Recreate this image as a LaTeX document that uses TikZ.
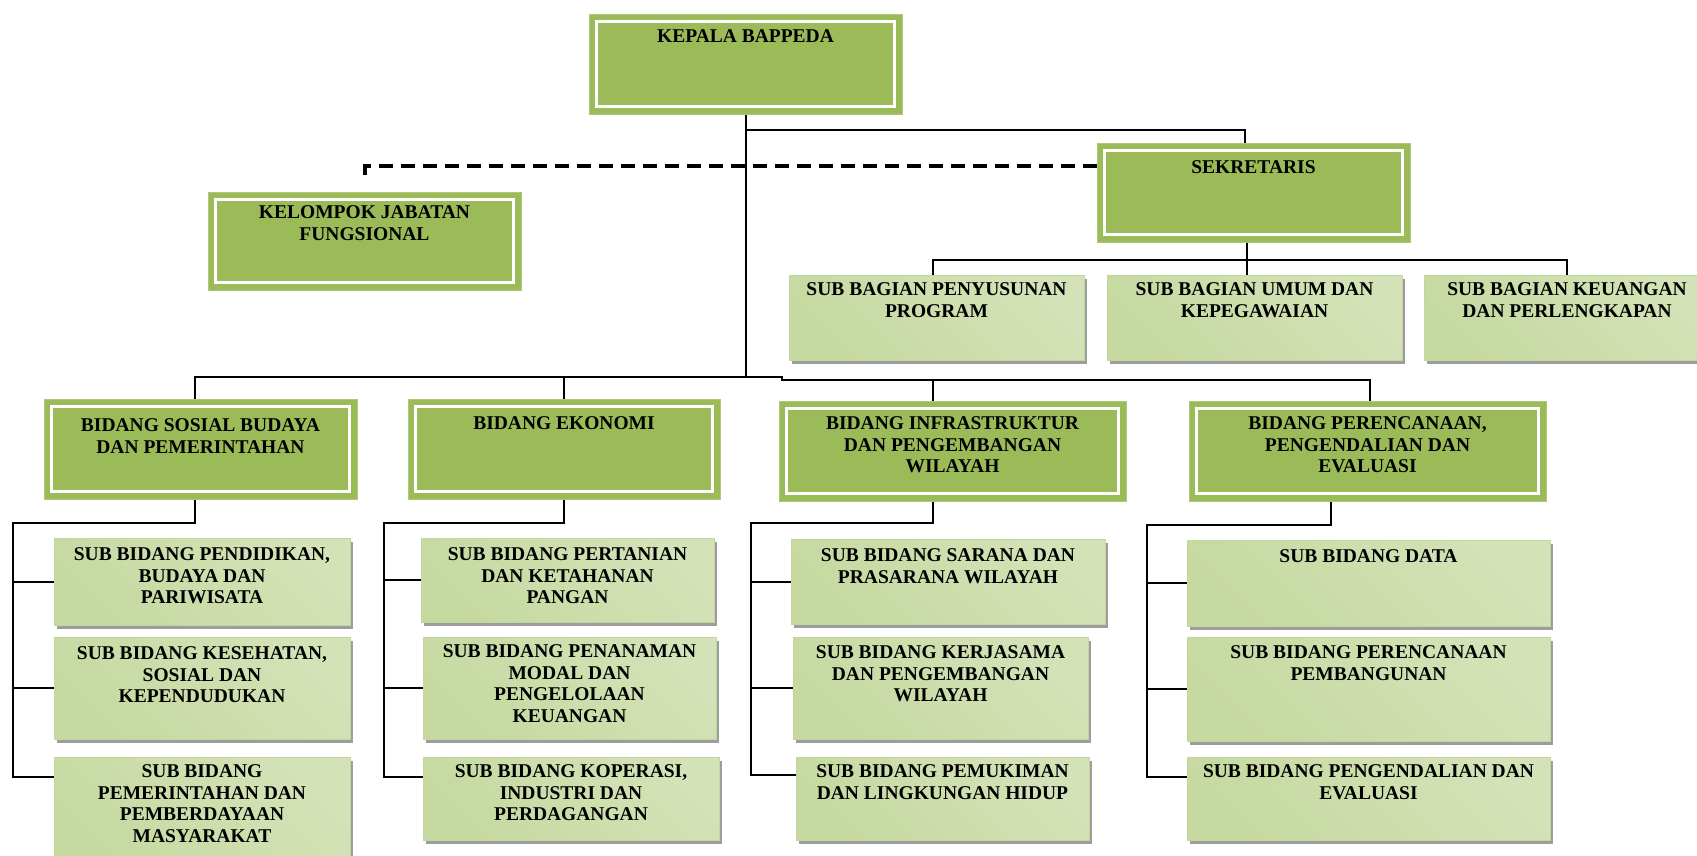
\documentclass[tikz,border=0pt]{standalone}
\usepackage{fontspec}
\setmainfont{Liberation Serif}
\usetikzlibrary{shadows}
\definecolor{orgdark}{HTML}{9BBB59}
\definecolor{orgdarkedge}{HTML}{AFC97A}
\definecolor{orglight}{HTML}{F1F6EA}
\definecolor{orgmid}{HTML}{C6D9A0}
\definecolor{orgedge}{HTML}{C3D69B}
\tikzset{
  darkbox/.style={fill=orgdark, draw=orgdarkedge, line width=1pt, inner sep=0pt},
  lightbox/.style={left color=orgmid, middle color=orglight, right color=orgmid!75!white,
    shading angle=135, draw=orgedge, line width=0.8pt, inner sep=0pt,
    drop shadow={shadow xshift=3pt, shadow yshift=-4pt, fill=black!45, opacity=0.85}},
  boxtext/.style={font=\bfseries\fontsize{19.5}{21.5}\selectfont, align=center, inner sep=0pt, anchor=north, text=black},
  conn/.style={draw=black, line width=2pt},
  dashconn/.style={draw=black, line width=3.5pt, dash pattern=on 14pt off 8pt},
}
% name, style, x1, y1, x2, y2, text offset, text
\newcommand\obox[8]{%
  \node[#2, minimum width={(#5-#3)*1pt}, minimum height={(#6-#4)*1pt}] (#1) at ({(#3+#5)/2},{(#4+#6)/2}) {};
  \node[boxtext] (#1t) at ([yshift=-#7pt]#1.north) {#8};
}
\newcommand\dbox[7]{%
  \node[darkbox, minimum width={(#4-#2)*1pt}, minimum height={(#5-#3)*1pt}] (#1) at ({(#2+#4)/2},{(#3+#5)/2}) {};
  \draw[white, line width=2.5pt] ([shift={(8,8)}]#1.north west) rectangle ([shift={(-8,-8)}]#1.south east);
  \node[boxtext] (#1t) at ([yshift=-#6pt]#1.north) {#7};
}
\begin{document}
\begin{tikzpicture}[x=1pt,y=-1pt]
\useasboundingbox (0,0) rectangle (1697,855);
\clip (0,0) rectangle (1697,855);
\fill[white] (0,0) rectangle (1697,855);

% top level
\dbox{kepala}{589}{14}{902}{114}{16}{KEPALA BAPPEDA}
\dbox{sekr}{1097}{143}{1410}{242}{18}{SEKRETARIS}
\dbox{kjf}{208}{192}{521}{290}{14}{KELOMPOK JABATAN\\FUNGSIONAL}

% sub bagian
\obox{sbp}{lightbox}{789}{275}{1084}{360}{8}{SUB BAGIAN PENYUSUNAN\\PROGRAM}
\obox{sbu}{lightbox}{1107}{275}{1402}{360}{8}{SUB BAGIAN UMUM DAN\\KEPEGAWAIAN}
\obox{sbk}{lightbox}{1424}{275}{1710}{360}{8}{SUB BAGIAN KEUANGAN\\DAN PERLENGKAPAN}

% bidang
\dbox{sos}{44}{399}{357}{499}{20}{BIDANG SOSIAL BUDAYA\\DAN PEMERINTAHAN}
\dbox{eko}{408}{399}{720}{499}{18}{BIDANG EKONOMI}
\dbox{inf}{779}{401}{1126}{501}{16}{BIDANG INFRASTRUKTUR\\DAN PENGEMBANGAN\\WILAYAH}
\dbox{per}{1189}{401}{1546}{501}{16}{BIDANG PERENCANAAN,\\PENGENDALIAN DAN\\EVALUASI}

% sub bidang
\obox{s11}{lightbox}{54}{538}{350}{625}{10}{SUB BIDANG PENDIDIKAN,\\BUDAYA DAN\\PARIWISATA}
\obox{s12}{lightbox}{54}{637}{350}{739}{10}{SUB BIDANG KESEHATAN,\\SOSIAL DAN\\KEPENDUDUKAN}
\obox{s13}{lightbox}{54}{757}{350}{870}{8}{SUB BIDANG\\PEMERINTAHAN DAN\\PEMBERDAYAAN\\MASYARAKAT}

\obox{s21}{lightbox}{421}{538}{714}{622}{10}{SUB BIDANG PERTANIAN\\DAN KETAHANAN\\PANGAN}
\obox{s22}{lightbox}{423}{637}{716}{739}{8}{SUB BIDANG PENANAMAN\\MODAL DAN\\PENGELOLAAN\\KEUANGAN}
\obox{s23}{lightbox}{423}{757}{719}{840}{8}{SUB BIDANG KOPERASI,\\INDUSTRI DAN\\PERDAGANGAN}

\obox{s31}{lightbox}{791}{539}{1105}{624}{10}{SUB BIDANG SARANA DAN\\PRASARANA WILAYAH}
\obox{s32}{lightbox}{793}{637}{1088}{739}{9}{SUB BIDANG KERJASAMA\\DAN PENGEMBANGAN\\WILAYAH}
\obox{s33}{lightbox}{796}{757}{1089}{840}{8}{SUB BIDANG PEMUKIMAN\\DAN LINGKUNGAN HIDUP}

\obox{s41}{lightbox}{1187}{540}{1550}{626}{10}{SUB BIDANG DATA}
\obox{s42}{lightbox}{1187}{637}{1550}{741}{9}{SUB BIDANG PERENCANAAN\\PEMBANGUNAN}
\obox{s43}{lightbox}{1187}{757}{1550}{840}{8}{SUB BIDANG PENGENDALIAN DAN\\EVALUASI}

% connectors: top
\coordinate (sekrTop) at ([xshift=-9pt]sekr.north);
\draw[conn] (kepala.south) -- ++(0,15) -| (sekrTop);
\coordinate (kjfTop) at (365,181);
\draw[dashconn] (sekr.west |- 0,166) -- (kjfTop |- 0,166) -- (kjfTop);

% sekretaris to sub bagian
\coordinate (skb) at (0,260);
\coordinate (sekrBot) at ([xshift=-7pt]sekr.south);
\coordinate (sbpTop) at ([xshift=-4pt]sbp.north);
\coordinate (sbuTop) at ([xshift=-8pt]sbu.north);
\draw[conn] (sekrBot) -- (sekrBot |- skb);
\draw[conn] (sbpTop) |- (sbk.north |- skb) -- (sbk.north);
\draw[conn] (sbuTop) -- (sbuTop |- skb);

% main bus to bidang
\coordinate (busA) at (782,377);
\coordinate (busB) at (782,380);
\coordinate (sosTop) at ([xshift=-6pt]sos.north);
\coordinate (infTop) at ([xshift=-20pt]inf.north);
\coordinate (perTop) at ([xshift=2pt]per.north);
\draw[conn] (kepala.south) -- (kepala.south |- busA);
\draw[conn] (sosTop) |- (busA) -- (busB) -| (perTop);
\draw[conn] (eko.north) -- (eko.north |- busA);
\draw[conn] (infTop) -- (infTop |- busB);

% sosial group
\coordinate (sosBot) at ([xshift=-6pt]sos.south);
\coordinate (sosSp) at (13,523);
\draw[conn] (sosBot) |- (sosSp) -- (sosSp |- 0,777) -- (s13.west |- 0,777);
\draw[conn] (sosSp |- s11.west) -- (s11.west);
\draw[conn] (sosSp |- s12.west) -- (s12.west);

% ekonomi group
\coordinate (ekoSp) at (384,523);
\draw[conn] (eko.south) |- (ekoSp) -- (ekoSp |- 0,777) -- (s23.west |- 0,777);
\draw[conn] (ekoSp |- s21.west) -- (s21.west);
\draw[conn] (ekoSp |- s22.west) -- (s22.west);

% infrastruktur group
\coordinate (infBot) at ([xshift=-20pt]inf.south);
\coordinate (infSp) at (751,523);
\draw[conn] (infBot) |- (infSp) -- (infSp |- 0,775) -- (s33.west |- 0,775);
\draw[conn] (infSp |- s31.west) -- (s31.west);
\draw[conn] (infSp |- s32.west) -- (s32.west);

% perencanaan group
\coordinate (perBot) at ([xshift=-37pt]per.south);
\coordinate (perSp) at (1147,525);
\draw[conn] (perBot) |- (perSp) -- (perSp |- 0,777) -- (s43.west |- 0,777);
\draw[conn] (perSp |- s41.west) -- (s41.west);
\draw[conn] (perSp |- s42.west) -- (s42.west);
\end{tikzpicture}
\end{document}
